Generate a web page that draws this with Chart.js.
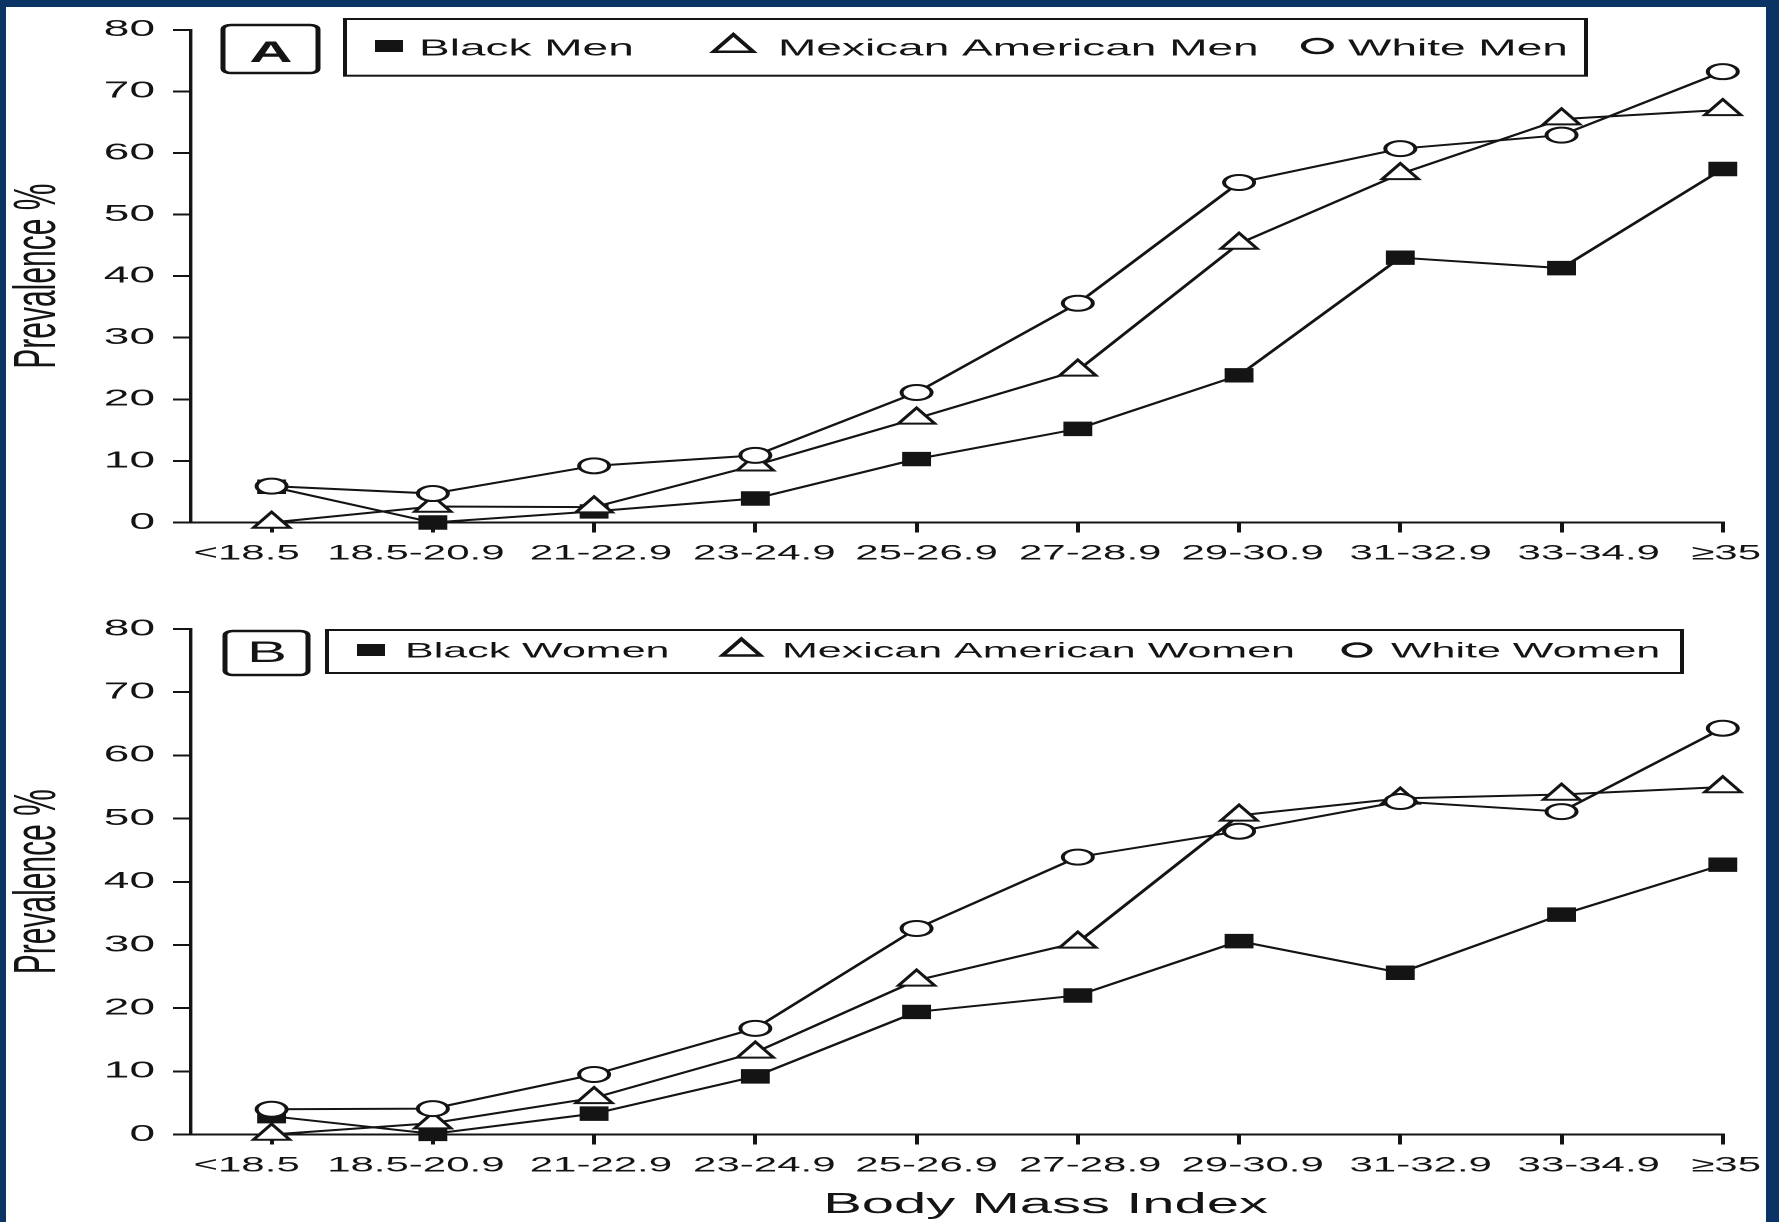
<!DOCTYPE html>
<html>
<head>
<meta charset="utf-8">
<script src="https://cdn.jsdelivr.net/npm/chart.js@4.4.0/dist/chart.umd.min.js"></script>
<style>
body { margin: 0; background: #0a3464; width: 1779px; height: 1222px; overflow: hidden; }
#page { position: absolute; left: 6px; top: 7px; width: 1760px; height: 1215px; background: #fff; overflow: hidden; }
/* the original figure is stretched about 2x horizontally */
#stretch { position: absolute; left: 0; top: 0; width: 880px; height: 1215px; transform: scaleX(2); transform-origin: 0 0; }
#boxA { position: absolute; left: 0; top: 0; width: 880px; height: 590px; }
#boxB { position: absolute; left: 0; top: 590px; width: 880px; height: 625px; }
</style>
</head>
<body>
<div id="page">
  <div id="stretch">
    <div id="boxA"><canvas id="chartA"></canvas></div>
    <div id="boxB"><canvas id="chartB"></canvas></div>
  </div>
</div>
<script>
const categories = ['<18.5', '18.5-20.9', '21-22.9', '23-24.9', '25-26.9', '27-28.9', '29-30.9', '31-32.9', '33-34.9', '≥35']
const yTicks = [0, 10, 20, 30, 40, 50, 60, 70, 80]

const blackMen = [5.8, 0, 1.8, 3.9, 10.3, 15.2, 23.9, 43.0, 41.3, 57.4]
const mexicanMen = [0, 2.6, 2.5, 9.3, 16.9, 24.7, 45.3, 56.6, 65.5, 67.0]
const whiteMen = [5.9, 4.7, 9.2, 10.9, 21.1, 35.6, 55.2, 60.7, 62.9, 73.2]

const blackWomen = [2.9, 0.1, 3.3, 9.2, 19.4, 22.0, 30.6, 25.6, 34.8, 42.7]
const mexicanWomen = [0, 1.8, 5.8, 13.0, 24.4, 30.4, 50.5, 53.2, 53.8, 55.0]
const whiteWomen = [4.0, 4.1, 9.5, 16.8, 32.6, 43.9, 48.0, 52.7, 51.1, 64.3]

const FONT = '"Liberation Sans", Arial, Helvetica, sans-serif'
const INK = '#141414'

// the x labels in the scan are typeset as one line, not exactly centred on the ticks
const labelShift = [-12.5, -8.5, 3.4, 4.5, 5, 6.2, 6.8, 10.2, 13.6, 1.7]

function makeDataset(label, values, style, order) {
    return {
        label: label,
        data: values.map((v, i) => ({ x: i, y: v })),
        borderColor: INK,
        borderWidth: 2,
        tension: 0,
        pointStyle: style,
        pointRadius: style === 'circle' ? 7.5 : style === 'triangle' ? 10.5 : 9.5,
        pointBackgroundColor: style === 'rect' ? INK : '#fff',
        pointBorderColor: INK,
        pointBorderWidth: style === 'rect' ? 1 : 2,
        clip: false,
        order: order
    }
}

function drawMarker(ctx, style, x, y, o) {
    ctx.lineWidth = 2.5
    if (style === 'rect') {
        ctx.fillRect(x - 7, y - 6, 14, 12)
    } else if (style === 'triangle') {
        const r = o.tri
        ctx.beginPath()
        ctx.moveTo(x, y - r)
        ctx.lineTo(x + r * 0.866, y + r / 2)
        ctx.lineTo(x - r * 0.866, y + r / 2)
        ctx.closePath()
        ctx.fillStyle = '#fff'
        ctx.fill()
        ctx.stroke()
        ctx.fillStyle = INK
    } else {
        ctx.beginPath()
        ctx.arc(x, y, o.circ, 0, Math.PI * 2)
        ctx.stroke()
    }
}

// legend in a box plus the panel letter box
const boxLegend = {
    id: 'boxLegend',
    afterDraw(chart, args, o) {
        const ctx = chart.ctx
        ctx.save()
        ctx.strokeStyle = INK
        ctx.fillStyle = INK
        const lb = o.letterBox
        ctx.lineWidth = 2.5
        ctx.beginPath()
        ctx.roundRect(lb[0], lb[1], lb[2] - lb[0], lb[3] - lb[1], 4)
        ctx.stroke()
        ctx.font = o.letterFont
        ctx.textAlign = 'center'
        ctx.textBaseline = 'alphabetic'
        ctx.fillText(o.letter, o.letterX, o.letterY)

        const b = o.box
        ctx.lineWidth = 2
        ctx.strokeRect(b[0], b[1], b[2] - b[0], b[3] - b[1])
        ctx.font = o.font
        ctx.textAlign = 'left'
        chart.data.datasets.forEach((ds, i) => {
            drawMarker(ctx, ds.pointStyle, o.markers[i], o.markerY, o)
            ctx.fillText(ds.label, o.texts[i], o.textY)
        })
        ctx.restore()
    }
}

// category labels under the x axis, placed from the scale
const xLabels = {
    id: 'xLabels',
    afterDraw(chart) {
        const ctx = chart.ctx
        const sx = chart.scales.x
        ctx.save()
        ctx.font = '21px ' + FONT
        ctx.fillStyle = INK
        ctx.textAlign = 'center'
        ctx.textBaseline = 'middle'
        categories.forEach((c, i) => {
            ctx.fillText(c, sx.getPixelForValue(i) + labelShift[i], sx.top + 31)
        })
        ctx.restore()
    }
}

// x axis title, sits right of centre in the original
const xTitle = {
    id: 'xTitle',
    afterDraw(chart, args, o) {
        if (!o.text) return
        const ctx = chart.ctx
        ctx.save()
        ctx.font = '29px ' + FONT
        ctx.fillStyle = INK
        ctx.textAlign = 'center'
        ctx.textBaseline = 'alphabetic'
        ctx.fillText(o.text, chart.scales.x.getPixelForValue(o.at), o.y)
        ctx.restore()
    }
}

function makeChart(id, datasets, top, xHeight, legend, title) {
    const ctx = document.getElementById(id).getContext('2d')
    return new Chart(ctx, {
        type: 'line',
        data: { datasets: datasets },
        plugins: [boxLegend, xLabels, xTitle],
        options: {
            responsive: true,
            maintainAspectRatio: false,
            devicePixelRatio: 2,
            animation: false,
            events: [],
            layout: { padding: { top: top, right: 21.6, left: 0, bottom: 0 } },
            scales: {
                x: {
                    type: 'linear',
                    min: -0.5,
                    max: categories.length - 1,
                    afterBuildTicks: (s) => { s.ticks = categories.map((c, i) => ({ value: i })) },
                    afterFit: (s) => { s.height = xHeight },
                    grid: { drawOnChartArea: false, drawTicks: true, tickLength: 10, color: INK, lineWidth: 2 },
                    border: { display: true, color: INK, width: 2 },
                    ticks: { display: false }
                },
                y: {
                    min: 0,
                    max: 80,
                    afterBuildTicks: (s) => { s.ticks = yTicks.map(v => ({ value: v })) },
                    afterFit: (s) => { s.width = 92.5 },
                    grid: { drawOnChartArea: false, drawTicks: true, tickLength: 9, color: INK, lineWidth: 2 },
                    border: { display: true, color: INK, width: 1.7 },
                    ticks: { padding: 9, color: INK, font: { size: 23, family: FONT } },
                    title: {
                        display: true,
                        text: 'Prevalence %',
                        color: INK,
                        font: { size: 30, family: FONT, lineHeight: 1 },
                        padding: { top: 1, bottom: 0 }
                    }
                }
            },
            plugins: {
                legend: { display: false },
                tooltip: { enabled: false },
                boxLegend: legend,
                xTitle: title
            }
        }
    })
}

makeChart('chartA', [
    makeDataset('Black Men', blackMen, 'rect', 2),
    makeDataset('Mexican American Men', mexicanMen, 'triangle', 1),
    makeDataset('White Men', whiteMen, 'circle', 0)
], 15.1, 74.5, {
    letterBox: [108.5, 18, 156, 66], letter: 'A', letterX: 132.5, letterY: 55, letterFont: 'bold 30px ' + FONT,
    box: [169.5, 12, 790, 68.7], markers: [191.5, 363.7, 655.7], texts: [206.5, 386, 671],
    markerY: 39, textY: 48.4, font: '23px ' + FONT, tri: 11.5, circ: 7
}, { text: '' })

makeChart('chartB', [
    makeDataset('Black Women', blackWomen, 'rect', 2),
    makeDataset('Mexican American Women', mexicanWomen, 'triangle', 1),
    makeDataset('White Women', whiteWomen, 'circle', 0)
], 32, 87.5, {
    letterBox: [109.5, 34, 151, 78], letter: 'B', letterX: 130.5, letterY: 65, letterFont: '30px ' + FONT,
    box: [160.5, 33, 838, 76], markers: [182.5, 367.7, 675.5], texts: [199.5, 388, 692.5],
    markerY: 53, textY: 60.5, font: '21.5px ' + FONT, tri: 11, circ: 6.5
}, { text: 'Body Mass Index', at: 4.8, y: 616 })
</script>
</body>
</html>
